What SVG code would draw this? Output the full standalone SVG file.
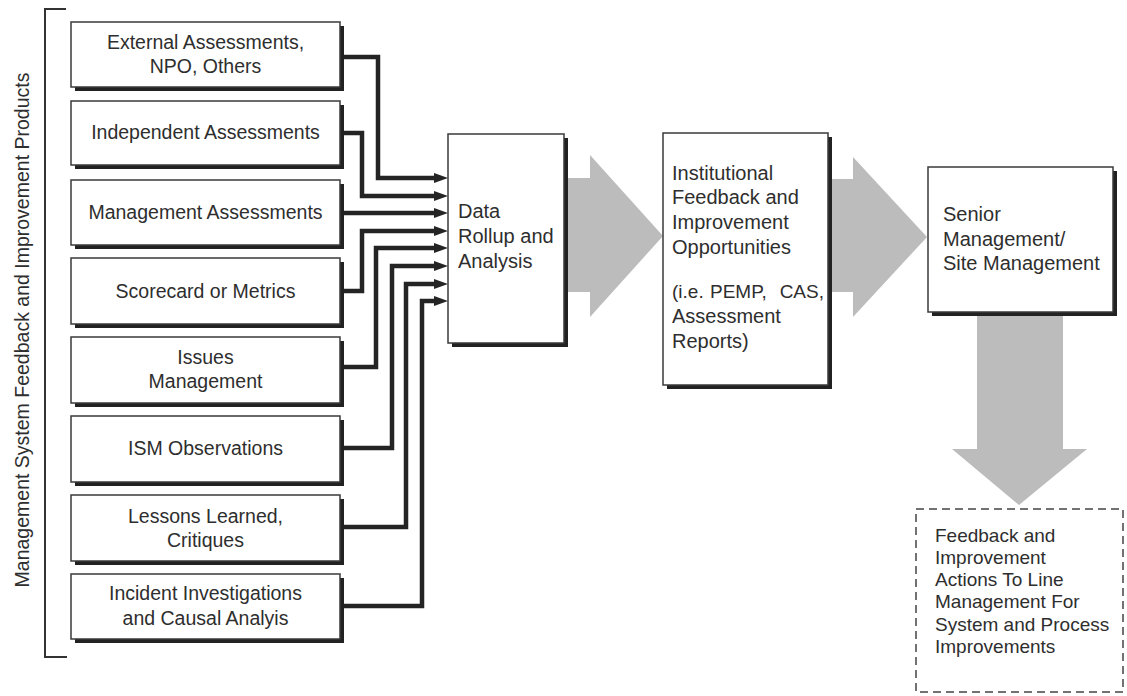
<svg xmlns="http://www.w3.org/2000/svg" width="1127" height="696" viewBox="0 0 1127 696">
<style>
  .txt { font-family: "Liberation Sans", Arial, sans-serif; fill: #2e2e2e; }
  .lbl { font-size: 19.5px; text-anchor: middle; }
  .rt { font-size: 20px; }
  .box { fill: #ffffff; stroke: #3a3a3a; stroke-width: 1.5; }
  .shadow { fill: #222222; }
  .wire { fill: none; stroke: #242424; stroke-width: 4.5; stroke-linejoin: miter; }
  .big { fill: #bcbcbc; }
</style>
<defs>
  <marker id="ah" markerUnits="userSpaceOnUse" markerWidth="14" markerHeight="11" refX="0" refY="5.5" orient="auto">
    <path d="M0,0.5 L14,5.5 L0,10.5 z" fill="#242424"/>
  </marker>
</defs>
<rect width="1127" height="696" fill="#ffffff"/>

<g id="side-label">
  <path d="M66,9 H45 V657 H67" fill="none" stroke="#333" stroke-width="2"/>
  <text class="txt" font-size="19.5" text-anchor="middle" transform="translate(29,330) rotate(-90)">Management System Feedback and Improvement Products</text>
</g>

<g id="connectors">
  <path class="wire" marker-end="url(#ah)" d="M344,57 H378 V178 H434"/>
  <path class="wire" marker-end="url(#ah)" d="M344,133 H362 V196 H434"/>
  <path class="wire" marker-end="url(#ah)" d="M344,213 H434"/>
  <path class="wire" marker-end="url(#ah)" d="M344,291 H362 V231 H434"/>
  <path class="wire" marker-end="url(#ah)" d="M344,367 H376 V248 H434"/>
  <path class="wire" marker-end="url(#ah)" d="M344,448 H392 V266 H434"/>
  <path class="wire" marker-end="url(#ah)" d="M344,527 H406 V284 H434"/>
  <path class="wire" marker-end="url(#ah)" d="M344,606 H422 V301 H434"/>
  <polygon class="big" points="566,178 590,178 590,155 663,236 590,317 590,292 566,292"/>
  <polygon class="big" points="830,179 853,179 853,157 927,237 853,317 853,292 830,292"/>
  <polygon class="big" points="977,314 1063,314 1063,449 1087,449 1019,505 952,449 977,449"/>
</g>

<g id="n-external">
  <rect class="shadow" x="75" y="26" width="269" height="65"/>
  <rect class="box" x="71" y="22" width="269" height="65"/>
  <text class="txt lbl" x="205.5" y="49">External Assessments,</text>
  <text class="txt lbl" x="205.5" y="73">NPO, Others</text>
</g>
<g id="n-independent">
  <rect class="shadow" x="75" y="105" width="269" height="64"/>
  <rect class="box" x="71" y="101" width="269" height="64"/>
  <text class="txt lbl" x="205.5" y="139">Independent Assessments</text>
</g>
<g id="n-management">
  <rect class="shadow" x="75" y="184" width="269" height="65"/>
  <rect class="box" x="71" y="180" width="269" height="65"/>
  <text class="txt lbl" x="205.5" y="219">Management Assessments</text>
</g>
<g id="n-scorecard">
  <rect class="shadow" x="75" y="262" width="269" height="66"/>
  <rect class="box" x="71" y="258" width="269" height="66"/>
  <text class="txt lbl" x="205.5" y="298">Scorecard or Metrics</text>
</g>
<g id="n-issues">
  <rect class="shadow" x="75" y="341" width="269" height="66"/>
  <rect class="box" x="71" y="337" width="269" height="66"/>
  <text class="txt lbl" x="205.5" y="364">Issues</text>
  <text class="txt lbl" x="205.5" y="388">Management</text>
</g>
<g id="n-ism">
  <rect class="shadow" x="75" y="420" width="269" height="66"/>
  <rect class="box" x="71" y="416" width="269" height="66"/>
  <text class="txt lbl" x="205.5" y="455">ISM Observations</text>
</g>
<g id="n-lessons">
  <rect class="shadow" x="75" y="499" width="269" height="66"/>
  <rect class="box" x="71" y="495" width="269" height="66"/>
  <text class="txt lbl" x="205.5" y="523">Lessons Learned,</text>
  <text class="txt lbl" x="205.5" y="547">Critiques</text>
</g>
<g id="n-incident">
  <rect class="shadow" x="75" y="578" width="269" height="65"/>
  <rect class="box" x="71" y="574" width="269" height="65"/>
  <text class="txt lbl" x="205.5" y="600" font-size="21">Incident Investigations</text>
  <text class="txt lbl" x="205.5" y="625" font-size="21">and Causal Analyis</text>
</g>

<g id="n-rollup">
  <rect class="shadow" x="452" y="138" width="116" height="209"/>
  <rect class="box" x="448" y="134" width="116" height="209"/>
  <text class="txt rt" x="458" y="218">Data</text>
  <text class="txt rt" x="458" y="243">Rollup and</text>
  <text class="txt rt" x="458" y="268">Analysis</text>
</g>

<g id="n-institutional">
  <rect class="shadow" x="667" y="137" width="165" height="252"/>
  <rect class="box" x="663" y="133" width="165" height="252"/>
  <text class="txt rt" x="672" y="180">Institutional</text>
  <text class="txt rt" x="672" y="204">Feedback and</text>
  <text class="txt rt" x="672" y="229">Improvement</text>
  <text class="txt rt" x="672" y="254">Opportunities</text>
  <text class="txt" font-size="19" y="298"><tspan x="672">(i.e.</tspan><tspan x="710">PEMP,</tspan><tspan x="824" text-anchor="end">CAS,</tspan></text>
  <text class="txt rt" x="672" y="323">Assessment</text>
  <text class="txt rt" x="672" y="348">Reports)</text>
</g>

<g id="n-senior">
  <rect class="shadow" x="932" y="171" width="185" height="145"/>
  <rect class="box" x="928" y="167" width="185" height="145"/>
  <text class="txt rt" x="943" y="221">Senior</text>
  <text class="txt rt" x="943" y="246">Management/</text>
  <text class="txt rt" x="943" y="270">Site Management</text>
</g>

<g id="n-feedback">
  <rect x="916" y="509" width="207" height="183" fill="#ffffff" stroke="#444" stroke-width="1.5" stroke-dasharray="8 5"/>
  <text class="txt" font-size="19" x="935" y="542">Feedback and</text>
  <text class="txt" font-size="19" x="935" y="564">Improvement</text>
  <text class="txt" font-size="19" x="935" y="586">Actions To Line</text>
  <text class="txt" font-size="19" x="935" y="608">Management For</text>
  <text class="txt" font-size="19" x="935" y="631">System and Process</text>
  <text class="txt" font-size="19" x="935" y="653">Improvements</text>
</g>
</svg>
